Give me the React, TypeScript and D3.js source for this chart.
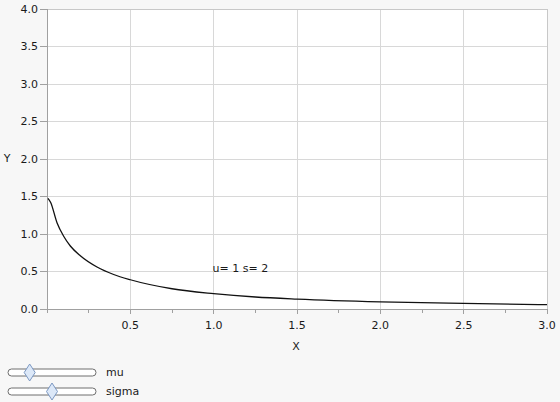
import React from "react";
import * as d3 from "d3";

const xVals = [0.006, 0.022, 0.06, 0.1, 0.14, 0.2, 0.3, 0.4, 0.5, 0.75, 1.0, 1.25, 1.5, 2.0, 2.5, 3.0];
const yVals = [1.476, 1.42, 1.15, 0.97, 0.84, 0.71, 0.56, 0.46, 0.39, 0.27, 0.205, 0.16, 0.132, 0.095, 0.074, 0.058];
const xTicks = [0.5, 1.0, 1.5, 2.0, 2.5, 3.0];
const xMinor = [0.25, 0.75, 1.25, 1.75, 2.25, 2.75];
const yTicks = [0.0, 0.5, 1.0, 1.5, 2.0, 2.5, 3.0, 3.5, 4.0];
const sliders = [
  { name: "mu", pos: 0.19 },
  { name: "sigma", pos: 0.5 },
];
const annotation = "u= 1 s= 2";

const W = 560, H = 402;
const L = 47, R = 547, T = 9, B = 309;
const FONT = "DejaVu Sans";
const TXT = "#1a1a1a";

export default function App() {
  const x = d3.scaleLinear().domain([0, 3]).range([L, R]);
  const y = d3.scaleLinear().domain([0, 4]).range([B, T]);
  const pts = xVals.map((v, i) => [v, yVals[i]] as [number, number]);
  const line = d3.line<[number, number]>().x(d => x(d[0])).y(d => y(d[1])).curve(d3.curveMonotoneX);
  const trackX0 = 8, trackX1 = 96;
  return (
    <svg width={W} height={H} style={{ position: "absolute", left: 0, top: 0, background: "#f7f7f7" }} fontFamily={FONT}>
      <rect x={0} y={0} width={W} height={H} fill="#f7f7f7" />
      <rect x={L} y={T} width={R - L} height={B - T} fill="#ffffff" />
      {yTicks.filter(t => t > 0).map(t => (
        <line key={"gy" + t} x1={L} x2={R} y1={y(t)} y2={y(t)} stroke="#d8d8d8" strokeWidth={1} shapeRendering="crispEdges" />
      ))}
      {xTicks.map(t => (
        <line key={"gx" + t} x1={x(t)} x2={x(t)} y1={T} y2={B} stroke="#d8d8d8" strokeWidth={1} shapeRendering="crispEdges" />
      ))}
      <line x1={L} x2={R} y1={T} y2={T} stroke="#c8c8c8" shapeRendering="crispEdges" />
      <line x1={R} x2={R} y1={T} y2={B} stroke="#c8c8c8" shapeRendering="crispEdges" />
      <line x1={L} x2={L} y1={T} y2={B} stroke="#a0a0a0" shapeRendering="crispEdges" />
      <line x1={L} x2={R} y1={B} y2={B} stroke="#a0a0a0" shapeRendering="crispEdges" />
      {yTicks.map(t => (
        <g key={"yt" + t}>
          <line x1={L - 7} x2={L} y1={y(t)} y2={y(t)} stroke="#a0a0a0" shapeRendering="crispEdges" />
          <text x={L - 9} y={y(t)} dy="0.35em" textAnchor="end" fontSize={11} fill={TXT}>{t.toFixed(1)}</text>
        </g>
      ))}
      <line x1={L} x2={L} y1={B} y2={B + 4} stroke="#a0a0a0" shapeRendering="crispEdges" />
      {xMinor.map(t => (
        <line key={"xm" + t} x1={x(t)} x2={x(t)} y1={B} y2={B + 4} stroke="#a0a0a0" shapeRendering="crispEdges" />
      ))}
      {xTicks.map(t => (
        <g key={"xt" + t}>
          <line x1={x(t)} x2={x(t)} y1={B} y2={B + 5} stroke="#a0a0a0" shapeRendering="crispEdges" />
          <text x={x(t)} y={325} dy="0.35em" textAnchor="middle" fontSize={11} fill={TXT}>{t.toFixed(1)}</text>
        </g>
      ))}
      <path d={line(pts) || ""} fill="none" stroke="#111111" strokeWidth={1.3} />
      <text x={x(1.16)} y={y(0.55)} dy="0.35em" textAnchor="middle" fontSize={11} fill={TXT}>{annotation}</text>
      <text x={7} y={158} dy="0.35em" textAnchor="middle" fontSize={11} fill={TXT}>Y</text>
      <text x={296} y={346} dy="0.35em" textAnchor="middle" fontSize={11} fill={TXT}>X</text>
      {sliders.map((s, i) => {
        const cy = 372.5 + i * 19;
        const tx = trackX0 + 8 + s.pos * (trackX1 - trackX0 - 16);
        return (
          <g key={s.name}>
            <rect x={trackX0} y={cy - 3.5} width={trackX1 - trackX0} height={7} rx={3.5} fill="#ffffff" stroke="#6e6e6e" strokeWidth={1} />
            <path d={`M${tx},${cy - 8.5} L${tx + 5.5},${cy} L${tx},${cy + 8.5} L${tx - 5.5},${cy} Z`} fill="#dce8f8" stroke="#7c98c2" strokeWidth={1} />
            <text x={106} y={cy} dy="0.35em" fontSize={11} fill={TXT}>{s.name}</text>
          </g>
        );
      })}
    </svg>
  );
}
